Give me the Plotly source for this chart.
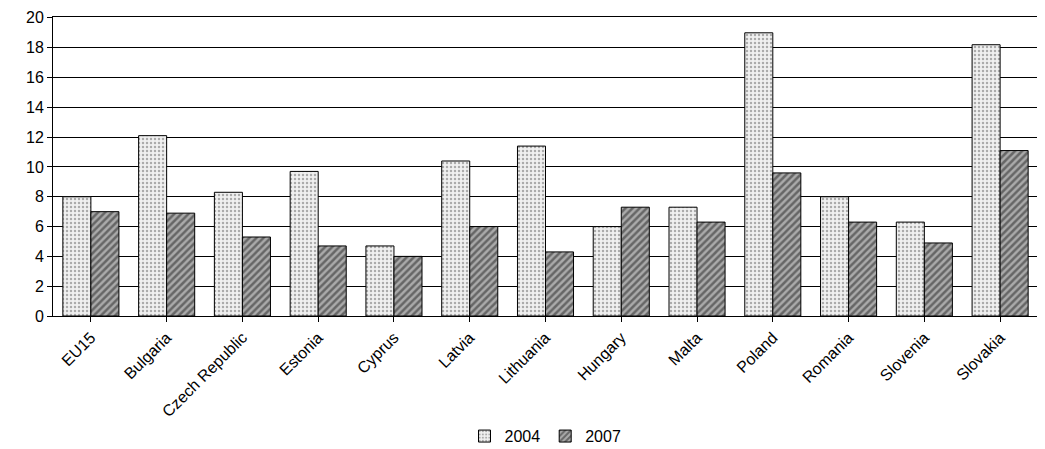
import plotly.graph_objects as go

countries = ["EU15", "Bulgaria", "Czech Republic", "Estonia", "Cyprus", "Latvia", "Lithuania",
             "Hungary", "Malta", "Poland", "Romania", "Slovenia", "Slovakia"]
y2004 = [8.0, 12.1, 8.3, 9.7, 4.7, 10.4, 11.4, 6.0, 7.3, 19.0, 8.0, 6.3, 18.2]
y2007 = [7.0, 6.9, 5.3, 4.7, 4.0, 6.0, 4.3, 7.3, 6.3, 9.6, 6.3, 4.9, 11.1]
yticks = list(range(0, 21, 2))

fig = go.Figure()
fig.add_trace(go.Bar(
    x=countries, y=y2004, name="2004",
    marker=dict(color="#e8e8e8", line=dict(color="black", width=1),
                pattern=dict(shape=".", fgcolor="#666666", bgcolor="#f0f0f0", size=4, solidity=0.3)),
))
fig.add_trace(go.Bar(
    x=countries, y=y2007, name="2007",
    marker=dict(color="#555555", line=dict(color="black", width=1),
                pattern=dict(shape="/", fgcolor="#222222", bgcolor="#aaaaaa", size=5, solidity=0.5)),
))

fig.update_layout(
    width=1045, height=441,
    margin=dict(l=45, r=15, t=9, b=133, autoexpand=False),
    plot_bgcolor="white", paper_bgcolor="white",
    barmode="group", bargap=0.26, bargroupgap=0.0,
    font=dict(family="Liberation Sans, Arial", size=16, color="black"),
    legend=dict(orientation="h", x=0.5, xanchor="center", y=-0.345, yanchor="top",
                font=dict(size=16)),
    showlegend=True,
)
fig.update_xaxes(tickangle=-45, showline=True, linecolor="black", mirror=True,
                 ticks="outside", ticklen=5, tickcolor="black", automargin=False)
fig.update_yaxes(range=[0, 20.06], tickvals=yticks, ticktext=[str(v) for v in yticks],
                 showgrid=True, gridcolor="black", gridwidth=1,
                 showline=True, linecolor="black", mirror=True, ticks="outside", ticklen=5,
                 tickcolor="black", zeroline=False, automargin=False)

fig.write_html("out.html")
